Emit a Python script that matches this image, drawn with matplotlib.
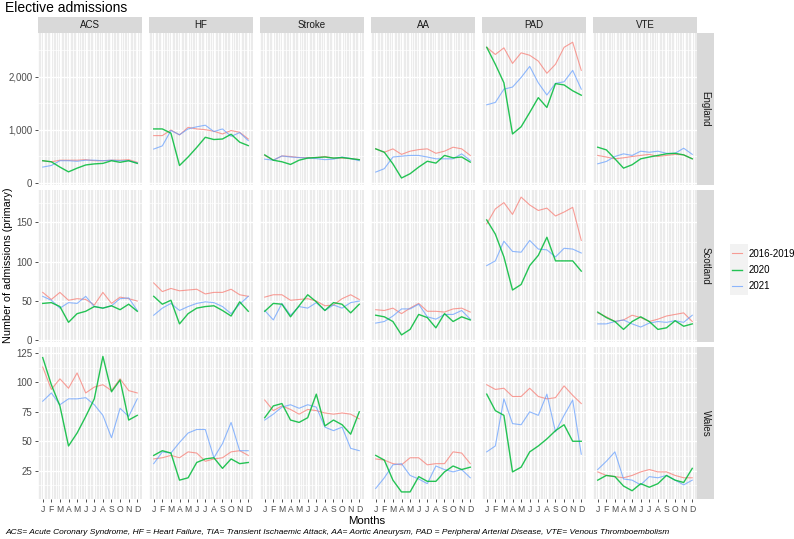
import numpy as np
import matplotlib.pyplot as plt
from matplotlib.lines import Line2D
from matplotlib.patches import Rectangle

plt.rcParams['font.family'] = ['Liberation Sans', 'DejaVu Sans']

months = ['J', 'F', 'M', 'A', 'M', 'J', 'J', 'A', 'S', 'O', 'N', 'D']
conditions = ['ACS', 'HF', 'Stroke', 'AA', 'PAD', 'VTE']
nations = ['England', 'Scotland', 'Wales']
series = ['2016-2019', '2020', '2021']
colors = ['#F8766D', '#00BA38', '#619CFF']

# each panel: rows are 2016-2019, 2020, 2021 ; Jan..Dec
eng_acs = [[420, 400, 430, 430, 430, 440, 420, 420, 430, 430, 440, 390],
           [420, 400, 300, 210, 280, 340, 360, 370, 420, 390, 420, 370],
           [300, 330, 420, 420, 410, 430, 430, 420, 430, 420, 420, 380]]
eng_hf = [[894, 894, 1000, 906, 1050, 1020, 1006, 975, 925, 990, 956, 830],
          [1020, 1020, 940, 330, 490, 670, 862, 820, 830, 920, 770, 705],
          [640, 700, 990, 910, 1020, 1060, 1090, 970, 1020, 880, 950, 800]]
eng_stroke = [[520, 430, 510, 500, 480, 480, 480, 500, 470, 470, 460, 440],
              [530, 430, 400, 350, 430, 470, 480, 490, 470, 480, 460, 440],
              [450, 430, 510, 490, 480, 470, 460, 440, 450, 490, 460, 420]]
eng_aa = [[644, 580, 644, 540, 600, 630, 644, 560, 600, 675, 644, 520],
          [644, 580, 360, 94, 175, 300, 410, 375, 520, 475, 490, 394],
          [206, 270, 490, 506, 520, 520, 490, 456, 456, 456, 550, 425]]
eng_pad = [[2560, 2425, 2550, 2256, 2456, 2410, 2300, 2070, 2240, 2560, 2656, 2125],
           [2560, 2240, 1890, 925, 1060, 1330, 1610, 1425, 1875, 1850, 1740, 1656],
           [1475, 1520, 1770, 1810, 1990, 2200, 1890, 1660, 1880, 1910, 2125, 1770]]
eng_vte = [[520, 490, 456, 475, 500, 520, 540, 500, 520, 540, 530, 456],
           [675, 625, 456, 280, 344, 456, 490, 520, 550, 560, 530, 456],
           [362, 406, 500, 550, 520, 600, 580, 600, 560, 560, 656, 540]]

sco_acs = [[61, 52, 61, 51, 53, 52, 45, 61, 47, 55, 53, 50],
           [47, 48, 43, 23, 34, 37, 43, 41, 44, 39, 46, 37],
           [56, 51, 41, 48, 47, 56, 43, 41, 44, 53, 54, 38]]
sco_hf = [[73, 62, 66, 63, 64, 65, 59, 61, 61, 65, 58, 56],
          [56, 46, 51, 21, 34, 41, 43, 44, 38, 31, 49, 37],
          [32, 41, 47, 38, 43, 47, 49, 48, 43, 34, 46, 56]]
sco_stroke = [[55, 58, 58, 51, 52, 53, 50, 44, 45, 53, 58, 52],
              [37, 47, 46, 30, 44, 58, 49, 38, 48, 46, 35, 46],
              [38, 26, 47, 32, 43, 41, 48, 38, 45, 41, 48, 50]]
sco_aa = [[39, 38, 41, 34, 41, 47, 37, 37, 36, 40, 41, 36],
          [32, 30, 24, 7, 14, 33, 29, 16, 34, 24, 30, 26],
          [22, 24, 31, 40, 40, 46, 30, 27, 33, 33, 38, 27]]
sco_pad = [[148, 167, 175, 160, 182, 172, 165, 168, 158, 163, 169, 127],
           [153, 135, 106, 64, 71, 95, 108, 131, 101, 101, 101, 88],
           [95, 101, 126, 113, 112, 127, 116, 115, 106, 117, 116, 111]]
sco_vte = [[35, 30, 24, 26, 32, 29, 24, 27, 31, 33, 35, 24],
           [36, 29, 24, 14, 24, 30, 24, 14, 16, 25, 18, 21],
           [21, 21, 24, 26, 21, 17, 22, 24, 23, 25, 23, 32]]

wal_acs = [[113, 94, 103, 95, 108, 91, 96, 98, 93, 103, 93, 91],
           [121, 98, 80, 46, 57, 71, 86, 122, 92, 102, 68, 72],
           [84, 91, 81, 86, 86, 87, 81, 72, 53, 78, 71, 86]]
wal_hf = [[35, 36, 38, 36, 41, 40, 33, 35, 36, 41, 42, 38],
          [38, 42, 40, 17, 19, 32, 35, 36, 27, 35, 31, 32],
          [31, 41, 40, 49, 57, 60, 60, 36, 48, 66, 42, 42]]
wal_stroke = [[85, 76, 80, 77, 73, 77, 76, 74, 73, 74, 73, 69],
              [70, 80, 82, 68, 66, 70, 90, 63, 68, 64, 56, 75],
              [68, 73, 79, 81, 78, 81, 79, 62, 59, 62, 44, 42]]
wal_aa = [[35, 34, 31, 30, 36, 36, 30, 31, 31, 41, 40, 31],
          [38, 34, 17, 7, 7, 20, 16, 16, 24, 29, 26, 28],
          [10, 19, 30, 31, 21, 18, 14, 29, 26, 24, 26, 19]]
wal_pad = [[98, 94, 95, 88, 88, 95, 88, 86, 87, 97, 89, 82],
           [90, 76, 72, 24, 28, 41, 46, 52, 59, 64, 50, 50],
           [41, 46, 86, 65, 64, 75, 72, 90, 58, 72, 85, 39]]
wal_vte = [[24, 21, 20, 19, 21, 24, 26, 24, 24, 21, 19, 19],
           [17, 21, 20, 12, 8, 14, 11, 14, 21, 17, 15, 27],
           [26, 33, 41, 18, 17, 13, 20, 19, 21, 17, 13, 17]]

data = [[eng_acs, eng_hf, eng_stroke, eng_aa, eng_pad, eng_vte],
        [sco_acs, sco_hf, sco_stroke, sco_aa, sco_pad, sco_vte],
        [wal_acs, wal_hf, wal_stroke, wal_aa, wal_pad, wal_vte]]

row_ylim = [(-38, 2830), (-2, 191), (1, 130)]
row_major = [[0, 1000, 2000], [0, 50, 100, 150], [25, 50, 75, 100, 125]]
row_minor = [[500, 1500, 2500], [25, 75, 125, 175], [12.5, 37.5, 62.5, 87.5, 112.5]]

W, H = 794, 539
fig = plt.figure(figsize=(W / 100, H / 100), dpi=100)


def fr(x0, y0, x1, y1):
    return [x0 / W, 1 - y1 / H, (x1 - x0) / W, (y1 - y0) / H]


col_left = [38 + i * 111 for i in range(6)]
pw = 104
row_top = [33, 190, 347]
ph = 152
x = np.arange(1, 13)
strip_bg = '#D9D9D9'
line_w = [0.8, 1.0, 0.8]
line_a = [0.7, 0.85, 0.7]

for r in range(3):
    for c in range(6):
        ax = fig.add_axes(fr(col_left[c], row_top[r], col_left[c] + pw, row_top[r] + ph))
        ax.set_facecolor('#EBEBEB')
        for s in ax.spines.values():
            s.set_visible(False)
        ax.set_xlim(0.45, 12.55)
        ax.set_ylim(*row_ylim[r])
        for v in row_minor[r]:
            ax.axhline(v, color='white', lw=0.5, zorder=0)
        for v in row_major[r]:
            ax.axhline(v, color='white', lw=1.0, zorder=0)
        for v in np.arange(0.5, 12.6, 1 / 3):
            ax.axvline(v, color='white', lw=0.6, zorder=0)
        for v in x:
            ax.axvline(v, color='white', lw=0.8, zorder=0)
        panel = data[r][c]
        for k in range(3):
            ax.plot(x, panel[k], color=colors[k], lw=line_w[k], alpha=line_a[k],
                    zorder=3 if k == 1 else 2)
        ax.set_yticks(row_major[r])
        ax.set_xticks(x)
        ax.tick_params(length=2.5, width=0.6, color='#333333', labelsize=7,
                       labelcolor='#4D4D4D', pad=1.5)
        if c == 0:
            if r == 0:
                ax.set_yticklabels([f'{v:,}' for v in row_major[r]])
        else:
            ax.tick_params(axis='y', length=0, labelleft=False)
        if r == 2:
            ax.set_xticklabels(months)
            ax.tick_params(axis='x', labelsize=6.2, pad=2)
        else:
            ax.tick_params(axis='x', length=0, labelbottom=False)

        if r == 0:
            sax = fig.add_axes(fr(col_left[c], 17, col_left[c] + pw, 33))
            sax.set_facecolor(strip_bg)
            sax.set_xticks([]); sax.set_yticks([])
            for s in sax.spines.values():
                s.set_visible(False)
            sax.text(0.5, 0.5, conditions[c], ha='center', va='center',
                     fontsize=7, color='#1A1A1A', transform=sax.transAxes)
        if c == 5:
            sax = fig.add_axes(fr(697, row_top[r], 714, row_top[r] + ph))
            sax.set_facecolor(strip_bg)
            sax.set_xticks([]); sax.set_yticks([])
            for s in sax.spines.values():
                s.set_visible(False)
            sax.text(0.5, 0.5, nations[r], ha='center', va='center', rotation=-90,
                     fontsize=7, color='#1A1A1A', transform=sax.transAxes)

fig.text(5 / W, 1 - 8 / H, 'Elective admissions', fontsize=10, ha='left', va='center')
fig.text(8 / W, 1 - 265 / H, 'Number of admissions (primary)', rotation=90,
         fontsize=7.8, ha='center', va='center')
fig.text(367 / W, 1 - 521 / H, 'Months', fontsize=8.2, ha='center', va='center')
fig.text(5 / W, 1 - 532 / H,
         'ACS= Acute Coronary Syndrome, HF = Heart Failure, TIA= Transient Ischaemic Attack, '
         'AA= Aortic Aneurysm, PAD = Peripheral Arterial Disease, VTE= Venous Thromboembolism',
         fontsize=6.0, style='italic', ha='left', va='center')

# legend
fig.patches.append(Rectangle((730 / W, 1 - 295 / H), 18 / W, 51 / H,
                             transform=fig.transFigure, facecolor='#F2F2F2',
                             edgecolor='none', zorder=0))
handles = [Line2D([], [], color=colors[k], lw=line_w[k], alpha=line_a[k]) for k in range(3)]
fig.legend(handles, series, loc='center left', bbox_to_anchor=(732 / W, 1 - 270 / H),
           frameon=False, fontsize=7, handlelength=1.0, handletextpad=0.7,
           labelspacing=0.65, borderpad=0, borderaxespad=0)

fig.savefig('out.png', dpi=100)
